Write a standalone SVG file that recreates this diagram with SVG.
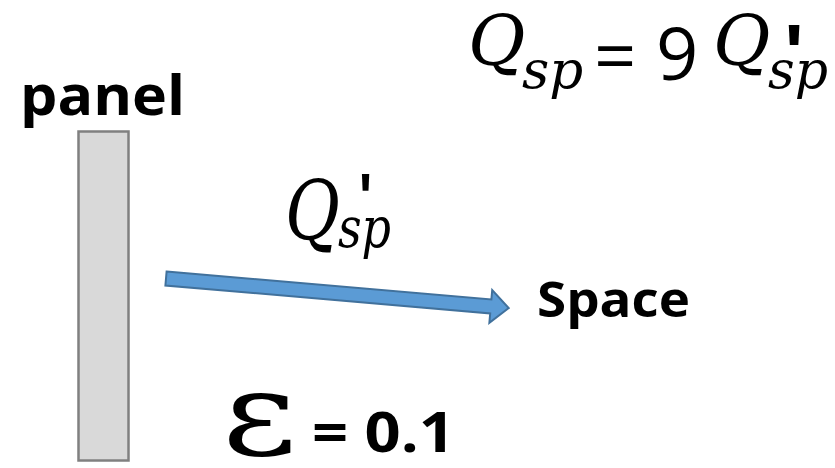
<svg xmlns="http://www.w3.org/2000/svg" width="835" height="468" viewBox="0 0 835 468">
  <style>
    .lbl { font-family: "Open Sans", "Liberation Sans", sans-serif; font-weight: bold; fill: #000; }
    .mi { font-family: "DejaVu Serif", "Liberation Serif", serif; font-style: italic; fill: #000; }
    .num { font-family: "Open Sans", "Liberation Sans", sans-serif; fill: #000; }
    .prime { font-family: "Liberation Sans", "Arial", sans-serif; font-weight: bold; font-style: normal; }
    .eps { font-family: "DejaVu Serif", "Liberation Serif", serif; fill: #000; }
  </style>
  <rect width="835" height="468" fill="#ffffff"/>

  <g id="panel">
    <rect x="78.5" y="131.5" width="50" height="329" fill="#d9d9d9" stroke="#808080" stroke-width="2.5"/>
    <text class="lbl" x="20" y="115" font-size="56" textLength="165" lengthAdjust="spacingAndGlyphs">panel</text>
  </g>

  <g id="space">
    <text class="lbl" x="537" y="317" font-size="48" textLength="153" lengthAdjust="spacingAndGlyphs">Space</text>
  </g>

  <g id="connectors">
    <g transform="translate(166,278.5) rotate(4.92)">
      <polygon points="0,-7 326,-7 326,-16.5 344,0 326,16.5 326,7 0,7" fill="#5b9bd5" stroke="#41719c" stroke-width="2" stroke-linejoin="miter"/>
    </g>
  </g>

  <g id="flux-label" transform="translate(285,240) scale(1,1.22)">
    <text class="mi"><tspan x="0" y="0" font-size="67">Q</tspan><tspan x="53" y="5.7" font-size="46">sp</tspan><tspan class="prime" x="74" y="-16" font-size="55">'</tspan></text>
  </g>

  <g id="equation">
    <text class="mi"><tspan x="468" y="65" font-size="70">Q</tspan><tspan x="522" y="88" font-size="53">sp</tspan></text>
    <text class="num" x="594" y="82" font-size="74">=</text>
    <text class="num" x="656" y="80" font-size="74">9</text>
    <text class="mi"><tspan x="713" y="65" font-size="70">Q</tspan><tspan x="768" y="88" font-size="52">sp</tspan><tspan class="prime" x="784.5" y="80" font-size="80">'</tspan></text>
  </g>

  <g id="emissivity">
    <text class="eps" x="222" y="455" font-size="118" textLength="75" lengthAdjust="spacingAndGlyphs">ε</text>
    <text class="lbl" x="312" y="452" font-size="56" textLength="143" lengthAdjust="spacingAndGlyphs">= 0.1</text>
  </g>
</svg>
